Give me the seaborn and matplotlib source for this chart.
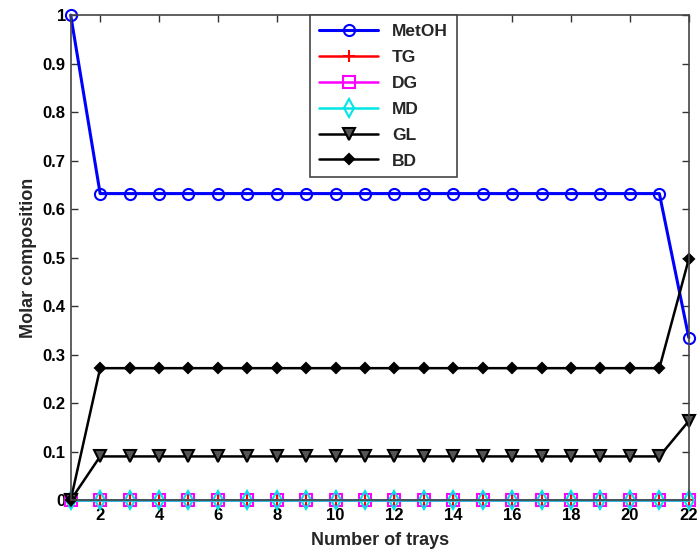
import numpy as np
import pandas as pd
import matplotlib
matplotlib.use("Agg")
import matplotlib.pyplot as plt
import seaborn as sns

# Tray profile data
trays = list(range(1, 23))
metoh = [1.0] + [0.632] * 20 + [0.335]
tg = [0.0] * 22
dg = [0.0] * 22
md = [0.0] * 22
gl = [0.0] + [0.09] * 20 + [0.163]
bd = [0.0] + [0.272] * 20 + [0.497]

series_names = ["MetOH", "TG", "DG", "MD", "GL", "BD"]
series_values = [metoh, tg, dg, md, gl, bd]

sns.set_style("ticks")
plt.rcParams["font.family"] = ["Liberation Sans", "DejaVu Sans"]
plt.rcParams["font.weight"] = "bold"
plt.rcParams["xtick.direction"] = "in"
plt.rcParams["ytick.direction"] = "in"

df = pd.DataFrame({"tray": trays})
for name, vals in zip(series_names, series_values):
    df[name] = vals

styles = {
    "MetOH": dict(color="#0000ff", marker="o", mfc="none", ms=8, mew=1.5, lw=2.2),
    "TG": dict(color="#ff0000", marker="+", mfc="none", ms=9, mew=1.5, lw=1.8),
    "DG": dict(color="#ff00ff", marker="s", mfc="none", ms=8, mew=1.5, lw=1.8),
    "MD": dict(color="#00e5e5", marker="d", mfc="none", ms=9, mew=1.5, lw=1.8),
    "GL": dict(color="black", marker="v", mfc="#555555", ms=9, mew=1.5, lw=1.8),
    "BD": dict(color="black", marker="D", mfc="black", ms=5, mew=1.5, lw=1.8),
}

fig = plt.figure(figsize=(7, 5.6), dpi=100)
ax = fig.add_axes([0.101, 0.107, 0.883, 0.866])

for name in series_names:
    s = styles[name]
    sns.lineplot(data=df, x="tray", y=name, ax=ax, label=name,
                 color=s["color"], marker=s["marker"], markerfacecolor=s["mfc"],
                 markeredgecolor=s["color"], markersize=s["ms"],
                 markeredgewidth=s["mew"], linewidth=s["lw"], clip_on=False)

ax.set_xlim(1, 22)
ax.set_ylim(0, 1)
ax.set_xticks(range(2, 23, 2))
ax.set_yticks(np.round(np.arange(0, 1.01, 0.1), 1))
ax.set_yticklabels(["0", "0.1", "0.2", "0.3", "0.4", "0.5", "0.6", "0.7", "0.8", "0.9", "1"])
ax.tick_params(axis="both", labelsize=12, top=True, right=True, length=5, width=1, colors="#333333")
ax.tick_params(axis="x", pad=6)
for lab in ax.get_xticklabels() + ax.get_yticklabels():
    lab.set_color("black")
    lab.set_fontweight("bold")
for sp in ax.spines.values():
    sp.set_visible(True)
    sp.set_color("#444444")
    sp.set_linewidth(1.2)

ax.set_xlabel("Number of trays", fontsize=13, fontweight="bold", labelpad=6)
ax.set_ylabel("Molar composition", fontsize=13, fontweight="bold", labelpad=4)

leg = ax.legend(loc="upper center", bbox_to_anchor=(0.506, 1.0), fontsize=12.5,
                frameon=True, fancybox=False, edgecolor="#444444", framealpha=1,
                handlelength=3.4, labelspacing=0.62, borderpad=0.5, borderaxespad=0)
leg.get_frame().set_linewidth(1.2)
for t in leg.get_texts():
    t.set_fontweight("bold")

fig.savefig("out.png", dpi=100)
